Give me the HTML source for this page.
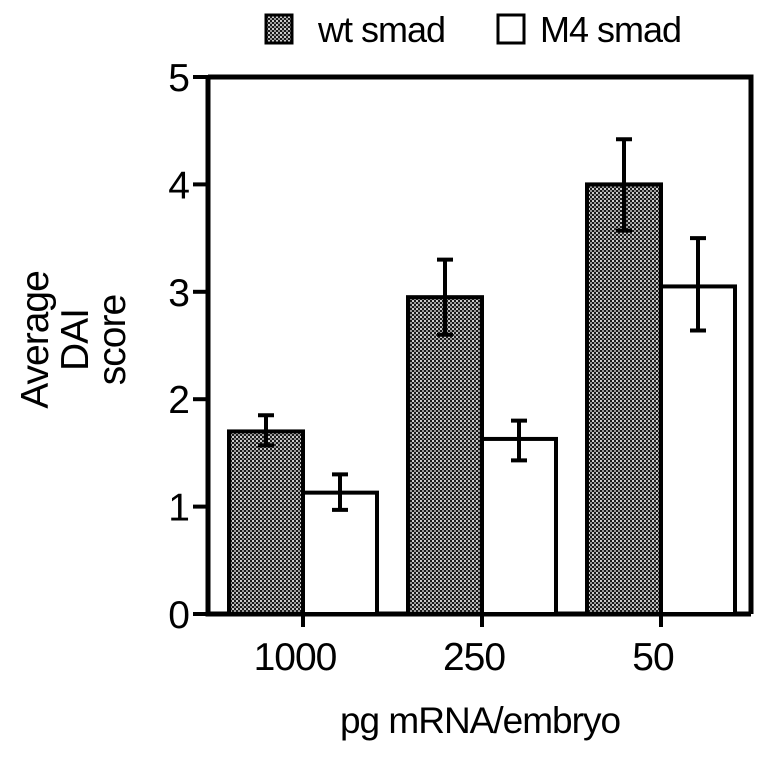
<!DOCTYPE html>
<html><head><meta charset="utf-8"><style>
body{margin:0;background:#fff}
svg text{font-family:"Liberation Sans",Arial,sans-serif;fill:#000;letter-spacing:-1px}
</style></head><body>
<svg width="764" height="753" viewBox="0 0 764 753" xmlns="http://www.w3.org/2000/svg">
<defs>
<pattern id="dots" width="4" height="4" patternUnits="userSpaceOnUse">
<rect width="4" height="4" fill="#1a1a1a"/>
<rect x="0" y="0" width="2" height="2" fill="#ccc"/>
<rect x="2" y="2" width="2" height="2" fill="#999"/>
</pattern>
</defs>
<g id="plot"></g>
</svg>
<script>
const categories=["1000","250","50"];
const wtValues=[1.70,2.95,4.00];
const wtErrHi=[1.85,3.30,4.42];
const wtErrLo=[1.57,2.60,3.57];
const m4Values=[1.13,1.63,3.05];
const m4ErrHi=[1.30,1.80,3.50];
const m4ErrLo=[0.97,1.43,2.64];
const yTicks=[0,1,2,3,4,5];

const NS="http://www.w3.org/2000/svg";
const g=document.getElementById('plot');
const X0=208,X1=751,Y0=614,Y5=77;
const y=v=>Y0-(Y0-Y5)*v/5;
const groupW=179, barW=74;
function mk(t,a,p){const e=document.createElementNS(NS,t);for(const k in a)e.setAttribute(k,a[k]);(p||g).appendChild(e);return e;}

const fr=mk('path',{d:`M${X0} ${Y5} H${X1} V${Y0} M${X0} ${Y5} V${Y0} H${X1}`,fill:'none',stroke:'#000','stroke-width':5});



yTicks.forEach(t=>{
  const l=mk('line',{x1:X0-15,x2:X0,y1:y(t),y2:y(t),stroke:'#000','stroke-width':4});
  
  
  const tx=mk('text',{x:X0-19,y:y(t)+14,'font-size':39,'text-anchor':'end'});
  tx.textContent=t;
  
  
});

categories.forEach((c,i)=>{
  const cx=303+groupW*i;
  function bar(v,hi,lo,x,fill,name){
    const r=mk('rect',{x:x,y:y(v),width:barW,height:Y0-y(v),fill:fill,stroke:'#000','stroke-width':4});
    
    
    const mx=x+barW/2;
    const e=mk('path',{d:`M${mx} ${y(hi)} V${y(lo)} M${mx-8} ${y(hi)} H${mx+8} M${mx-8} ${y(lo)} H${mx+8}`,stroke:'#000','stroke-width':4,fill:'none'});
    
    
  }
  bar(wtValues[i],wtErrHi[i],wtErrLo[i],cx-barW,'url(#dots)','bar-wt-'+c);
  bar(m4Values[i],m4ErrHi[i],m4ErrLo[i],cx,'#fff','bar-m4-'+c);
  const tk=mk('line',{x1:cx,x2:cx,y1:Y0,y2:Y0+13,stroke:'#000','stroke-width':4});
  
  
  const tx=mk('text',{x:cx-8,y:670,'font-size':39,'text-anchor':'middle'});
  tx.textContent=c;
  
  
});

const xt=mk('text',{x:480,y:733,'font-size':37,'text-anchor':'middle'});
xt.textContent='pg mRNA/embryo';



const yt=mk('g',{});


[['Average',48],['DAI',88],['score',125]].forEach(([s,x])=>{
  const t=mk('text',{x:x,y:340,'font-size':39,'text-anchor':'middle',transform:`rotate(-90 ${x} 340)`},yt);
  t.textContent=s;
});

const lg=mk('g',{});


mk('rect',{x:266,y:15,width:26,height:28,fill:'url(#dots)',stroke:'#000','stroke-width':3},lg);
const l1=mk('text',{x:318,y:42,'font-size':36},lg);l1.textContent='wt smad';
mk('rect',{x:498,y:15,width:26,height:28,fill:'#fff',stroke:'#000','stroke-width':3},lg);
const l2=mk('text',{x:540,y:42,'font-size':36},lg);l2.textContent='M4 smad';
</script>
</body></html>
